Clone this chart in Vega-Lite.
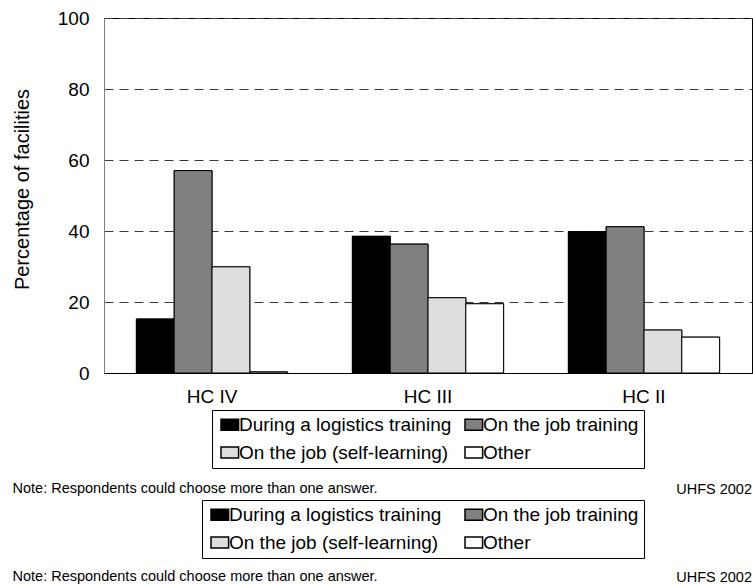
{
  "$schema": "https://vega.github.io/schema/vega-lite/v6.json",
  "width": 648,
  "height": 355,
  "autosize": {"type": "none"},
  "padding": {"left": 104, "top": 18, "right": 1, "bottom": 211},
  "background": "white",
  "config": {
    "font": "Liberation Sans",
    "view": {"stroke": "black", "strokeWidth": 1}
  },
  "data": {
    "values": [
      {"level": "HC IV", "type": "During a logistics training", "value": 15.2},
      {"level": "HC IV", "type": "On the job training", "value": 57.0},
      {"level": "HC IV", "type": "On the job (self-learning)", "value": 29.9},
      {"level": "HC IV", "type": "Other", "value": 0.3},
      {"level": "HC III", "type": "During a logistics training", "value": 38.5},
      {"level": "HC III", "type": "On the job training", "value": 36.3},
      {"level": "HC III", "type": "On the job (self-learning)", "value": 21.2},
      {"level": "HC III", "type": "Other", "value": 19.5},
      {"level": "HC II", "type": "During a logistics training", "value": 39.8},
      {"level": "HC II", "type": "On the job training", "value": 41.2},
      {"level": "HC II", "type": "On the job (self-learning)", "value": 12.1},
      {"level": "HC II", "type": "Other", "value": 10.1}
    ]
  },
  "title": {
    "text": ["UHFS 2002", "UHFS 2002"],
    "orient": "top",
    "anchor": "end",
    "frame": "group",
    "baseline": "top",
    "offset": 0,
    "dy": 576,
    "fontSize": 14.5,
    "fontWeight": "normal",
    "color": "black",
    "lineHeight": 88,
    "font": "Liberation Sans"
  },
  "encoding": {
    "x": {
      "field": "level",
      "type": "nominal",
      "sort": ["HC IV", "HC III", "HC II"],
      "scale": {"paddingInner": 0.3, "paddingOuter": 0.15},
      "axis": {
        "title": ["Note: Respondents could choose more than one answer.", "Note: Respondents could choose more than one answer."],
        "titleX": -92,
        "titleY": 108,
        "titleAlign": "left",
        "titleAnchor": "start",
        "titleBaseline": "top",
        "titleFontSize": 14.5,
        "titleFontWeight": "normal",
        "titleColor": "black",
        "titleLineHeight": 88,
        "labelFontSize": 19,
        "labelColor": "black",
        "labelPadding": 14,
        "labelAngle": 0,
        "ticks": false,
        "domainColor": "black",
        "grid": false
      }
    },
    "xOffset": {
      "field": "type",
      "type": "nominal",
      "sort": ["During a logistics training", "On the job training", "On the job (self-learning)", "Other"]
    },
    "y": {
      "field": "value",
      "type": "quantitative",
      "scale": {"domain": [0, 100], "nice": false},
      "axis": {
        "title": "Percentage of facilities",
        "titleFontSize": 20,
        "titleFontWeight": "normal",
        "titleColor": "black",
        "titleX": -82,
        "titleY": 171,
        "titleAlign": "center",
        "titleBaseline": "middle",
        "titleAngle": -90,
        "values": [0, 20, 40, 60, 80, 100],
        "labelFontSize": 19,
        "labelColor": "black",
        "labelPadding": 15,
        "ticks": false,
        "domainColor": "#808080",
        "grid": true,
        "gridColor": "#3a3a3a",
        "gridDash": [9, 6]
      }
    }
  },
  "layer": [
    {
      "mark": {"type": "bar", "stroke": "black", "strokeWidth": 1},
      "encoding": {
        "fill": {
          "field": "type",
          "type": "nominal",
          "scale": {
            "domain": ["During a logistics training", "On the job (self-learning)", "On the job training", "Other"],
            "range": ["#000000", "#DDDDDD", "#808080", "#FFFFFF"]
          },
          "legend": {
            "orient": "none",
            "legendX": 108,
            "legendY": 392,
            "columns": 2,
            "title": null,
            "labelFontSize": 19,
            "labelColor": "black",
            "labelLimit": 0,
            "symbolType": "M-1,-1H2.2V1H-1Z",
            "symbolSize": 121,
            "symbolStrokeColor": "black",
            "labelOffset": 3,
            "columnPadding": 9,
            "rowPadding": 8,
            "padding": 5,
            "strokeColor": "black",
            "fillColor": "white"
          }
        }
      }
    },
    {
      "mark": {"type": "bar", "stroke": "black", "strokeWidth": 1},
      "encoding": {
        "fill": {
          "field": "type",
          "type": "nominal",
          "scale": {
            "domain": ["During a logistics training", "On the job (self-learning)", "On the job training", "Other"],
            "range": ["#000000", "#DDDDDD", "#808080", "#FFFFFF"]
          },
          "legend": {
            "orient": "none",
            "legendX": 98,
            "legendY": 482,
            "columns": 2,
            "title": null,
            "labelFontSize": 19,
            "labelColor": "black",
            "labelLimit": 0,
            "symbolType": "M-1,-1H2.2V1H-1Z",
            "symbolSize": 121,
            "symbolStrokeColor": "black",
            "labelOffset": 3,
            "columnPadding": 19,
            "rowPadding": 8,
            "padding": 5,
            "strokeColor": "black",
            "fillColor": "white"
          }
        }
      }
    }
  ],
  "resolve": {"scale": {"fill": "independent"}, "legend": {"fill": "independent"}}
}
